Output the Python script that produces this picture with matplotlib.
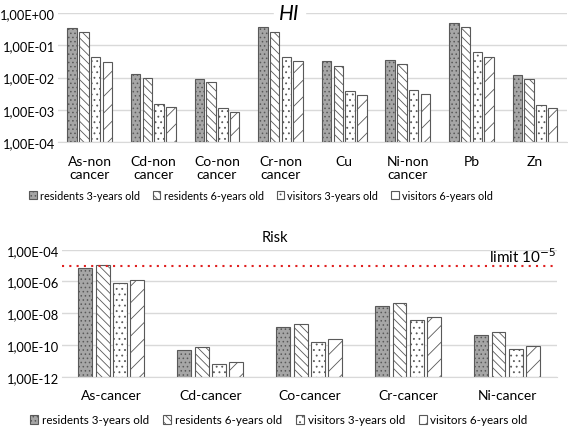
import matplotlib.pyplot as plt
import numpy as np
from matplotlib.ticker import FixedLocator, FuncFormatter

plt.rcParams['font.family'] = ['Lato', 'DejaVu Sans']
plt.rcParams['hatch.linewidth'] = 0.6

# non-cancer hazard index
hi_labels = ["As-non\ncancer", "Cd-non\ncancer", "Co-non\ncancer", "Cr-non\ncancer",
             "Cu", "Ni-non\ncancer", "Pb", "Zn"]
hi_res3 = [0.34, 0.013, 0.0093, 0.36, 0.032, 0.035, 0.49, 0.0118]
hi_res6 = [0.26, 0.0095, 0.0071, 0.26, 0.023, 0.026, 0.37, 0.0091]
hi_vis3 = [0.042, 0.0015, 0.00114, 0.043, 0.0037, 0.0042, 0.060, 0.00145]
hi_vis6 = [0.031, 0.0012, 0.00083, 0.032, 0.0029, 0.0032, 0.045, 0.0011]

# cancer risk
risk_labels = ["As-cancer", "Cd-cancer", "Co-cancer", "Cr-cancer", "Ni-cancer"]
risk_res3 = [6.7e-6, 5.1e-11, 1.3e-9, 3.0e-8, 4.4e-10]
risk_res6 = [1.05e-5, 7.6e-11, 2.0e-9, 4.5e-8, 6.3e-10]
risk_vis3 = [7.9e-7, 6.2e-12, 1.6e-10, 3.8e-9, 5.5e-11]
risk_vis6 = [1.18e-6, 9.0e-12, 2.4e-10, 5.6e-9, 8.0e-11]
risk_limit = 1e-5

series_names = ["residents 3-years old", "residents 6-years old",
                "visitors 3-years old", "visitors 6-years old"]
faces = ["#a6a6a6", "white", "white", "white"]
hatches = ["....", "\\\\\\\\", "...", "//"]
edge = "#595959"


def sci(v, pos):
    m, e = "{:.2E}".format(v).split("E")
    return m.replace(".", ",") + "E" + e


def grouped(ax, labels, series, low, width, step, pad):
    x = np.arange(len(labels))
    offsets = (np.arange(4) - 1.5) * step
    for vals, off, fc, h, name in zip(series, offsets, faces, hatches, series_names):
        vals = np.array(vals)
        ax.bar(x + off, vals - low, width, bottom=low, color=fc, hatch=h,
               edgecolor=edge, linewidth=0.8, label=name)
    ax.set_xticks(x)
    ax.set_xticklabels(labels, linespacing=1.15)
    ax.set_xlim(-0.5, len(labels) - 0.5)
    ax.set_yscale("log")
    ax.yaxis.set_major_formatter(FuncFormatter(sci))
    ax.yaxis.set_minor_locator(FixedLocator([]))
    ax.tick_params(length=0)
    ax.tick_params(axis="x", pad=pad, labelsize=10)
    ax.tick_params(axis="y", pad=2, labelsize=9.3)
    ax.grid(axis="y", color="#d9d9d9", linewidth=1)
    ax.set_axisbelow(True)
    for s in ["top", "right", "left"]:
        ax.spines[s].set_visible(False)
    ax.spines["bottom"].set_color("#d9d9d9")


fig = plt.figure(figsize=(5.68, 4.27), dpi=100)

ax1 = fig.add_axes([0.102, 0.665, 0.896, 0.302])
grouped(ax1, hi_labels, [hi_res3, hi_res6, hi_vis3, hi_vis6], 1e-4, 0.15, 0.185, 9)
ax1.set_ylim(1e-4, 1)
ax1.yaxis.set_major_locator(FixedLocator([1e-4, 1e-3, 1e-2, 1e-1, 1]))
ax1.text(0.455, 1.0, "HI", transform=ax1.transAxes, ha="center", va="center",
         fontsize=15, style="italic", backgroundcolor="white")
h1, l1 = ax1.get_legend_handles_labels()
fig.legend(h1, l1, loc="center", bbox_to_anchor=(261 / 568, 1 - 196 / 427), ncol=4,
           frameon=False, fontsize=7.8, handlelength=0.7, handleheight=0.7,
           handletextpad=0.3, columnspacing=1.2)

ax2 = fig.add_axes([0.109, 0.1155, 0.871, 0.2974])
grouped(ax2, risk_labels, [risk_res3, risk_res6, risk_vis3, risk_vis6], 1e-12, 0.14, 0.175, 9)
ax2.set_ylim(1e-12, 1e-4)
ax2.yaxis.set_major_locator(FixedLocator([1e-12, 1e-10, 1e-8, 1e-6, 1e-4]))
ax2.axhline(risk_limit, color="#e02020", linestyle=(0, (1, 2.5)), linewidth=1.5)
ax2.text(1.0, 0.95, "limit 10$^{-5}$", transform=ax2.transAxes, ha="right",
         va="center", fontsize=11)
ax2.set_title("Risk", fontsize=10.5, pad=6, x=0.43)
h2, l2 = ax2.get_legend_handles_labels()
fig.legend(h2, l2, loc="center", bbox_to_anchor=(279 / 568, 1 - 421 / 427), ncol=4,
           frameon=False, fontsize=8.4, handlelength=0.7, handleheight=0.7,
           handletextpad=0.3, columnspacing=1.2)

fig.savefig("out.png", dpi=100)
